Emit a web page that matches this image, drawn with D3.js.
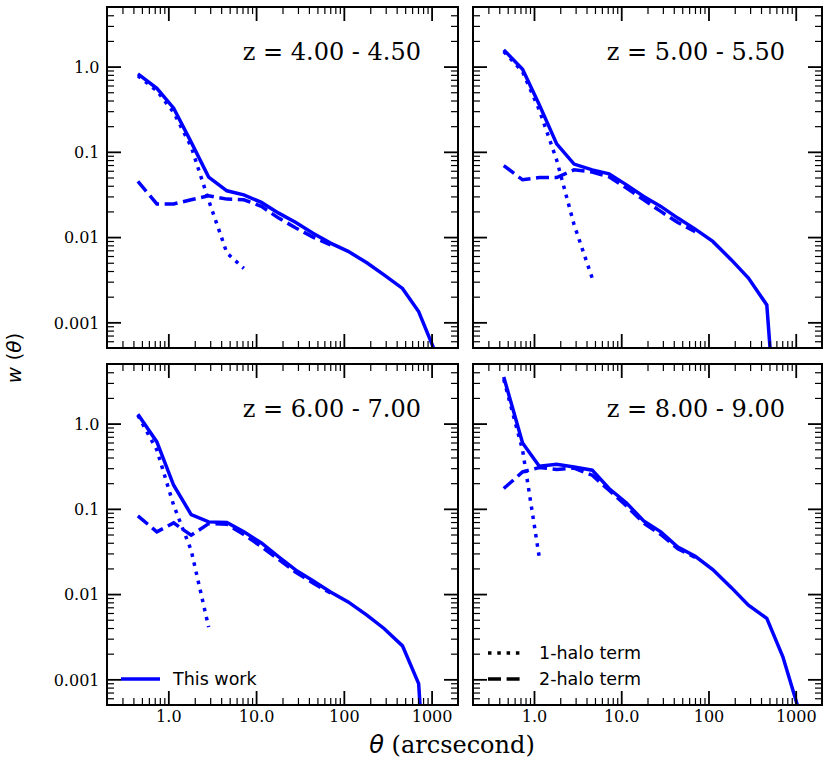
<!DOCTYPE html>
<html><head><meta charset="utf-8">
<script src="https://cdn.jsdelivr.net/npm/d3@7"></script>
<style>body{margin:0;background:#fff} svg{display:block}</style>
</head><body>
<svg id="c" width="830" height="766"></svg>
<script>
// ---------------- data ----------------
const theta = [0.45, 0.74, 1.15, 1.82, 2.88, 4.65, 7.25, 11.5, 18.1, 28.4, 44.5, 70.5, 112, 183, 287, 466, 712, 1140];

const panelTitles = ["z = 4.00 - 4.50", "z = 5.00 - 5.50", "z = 6.00 - 7.00", "z = 8.00 - 9.00"];

// total w(theta) ("This work")
const total_z4 = [0.82, 0.557, 0.325, 0.13, 0.0505, 0.0349, 0.0313, 0.0255, 0.0191, 0.0148, 0.0111, 0.0085, 0.0068, 0.0050, 0.0036, 0.0025, 0.00134, 0.00041];
const total_z5 = [1.57, 0.93, 0.356, 0.124, 0.0718, 0.0615, 0.0552, 0.041, 0.0299, 0.0229, 0.0167, 0.0124, 0.0089, 0.0054, 0.0033, 0.0016, 0.000005];
const total_z6 = [1.29, 0.61, 0.189, 0.0857, 0.0703, 0.069, 0.0537, 0.0398, 0.0273, 0.0191, 0.0143, 0.0106, 0.0081, 0.00566, 0.00395, 0.00247, 0.00089, 0.0000005];
const total_z8 = [3.52, 0.593, 0.316, 0.333, 0.31, 0.284, 0.173, 0.117, 0.072, 0.0537, 0.0357, 0.0278, 0.0194, 0.0119, 0.0074, 0.00518, 0.00184, 0.00037];

// 1-halo term
const oneHalo_z4 = [0.78, 0.52, 0.29, 0.115, 0.027, 0.0065, 0.0043];
const oneHalo_z5 = [1.50, 0.87, 0.31, 0.08, 0.014, 0.0033];
const oneHalo_z6 = [1.25, 0.49, 0.11, 0.0327, 0.0041];
const oneHalo_z8 = [3.3, 0.49, 0.027];

// 2-halo term
const twoHalo_z4 = [0.045, 0.0245, 0.0245, 0.0274, 0.0305, 0.0279, 0.0274, 0.0229, 0.0167, 0.0128, 0.0100, 0.0081];
const twoHalo_z5 = [0.069, 0.047, 0.05, 0.05, 0.0615, 0.058, 0.051, 0.0375, 0.0274, 0.020, 0.0148, 0.0116];
const twoHalo_z6 = [0.0826, 0.0537, 0.0684, 0.049, 0.067, 0.066, 0.050, 0.036, 0.0255, 0.018, 0.0135, 0.0103];
const twoHalo_z8 = [0.173, 0.271, 0.305, 0.29, 0.30, 0.248, 0.165, 0.108, 0.068, 0.050, 0.034, 0.027];

const xTickValues = [1, 10, 100, 1000];
const xTickLabels = ["1.0", "10.0", "100", "1000"];
const yTickValues = [1, 0.1, 0.01, 0.001];
const yTickLabels = ["1.0", "0.1", "0.01", "0.001"];
const legendLabels = ["This work", "1-halo term", "2-halo term"];

// ---------------- layout ----------------
const svg = d3.select("#c");
const cols = [[107, 458], [473, 822]];
const rows = [[7, 348], [364, 705]];
const xDomain = [0.2, 2000], yDomain = [0.0005, 5];
const BLUE = "#0000ff";
const LW = 3.5;
const DOT = "3.5,5.8", DASH = "13,5.6";

function minorTicks(lo, hi) {
  const out = [];
  for (let e = -5; e <= 4; e++) for (let k = 2; k <= 9; k++) {
    const v = k * Math.pow(10, e);
    if (v > lo * 1.0001 && v < hi * 0.9999) out.push(v);
  }
  return out;
}
const xMinor = minorTicks(xDomain[0], xDomain[1]);
const yMinor = minorTicks(yDomain[0], yDomain[1]);

const panels = [
  {title: panelTitles[0], total: total_z4, one: oneHalo_z4, two: twoHalo_z4, c: 0, r: 0},
  {title: panelTitles[1], total: total_z5, one: oneHalo_z5, two: twoHalo_z5, c: 1, r: 0},
  {title: panelTitles[2], total: total_z6, one: oneHalo_z6, two: twoHalo_z6, c: 0, r: 1},
  {title: panelTitles[3], total: total_z8, one: oneHalo_z8, two: twoHalo_z8, c: 1, r: 1}
];

function styleAxis(g, width) {
  g.select(".domain").remove();
  g.selectAll(".tick line").attr("stroke", "#000").attr("stroke-width", width);
  g.attr("font-family", "DejaVu Serif").attr("font-size", 16);
  g.selectAll(".tick text").attr("fill", "#000");
}

panels.forEach((p, i) => {
  const [L, R] = cols[p.c], [T, B] = rows[p.r];
  const x = d3.scaleLog().domain(xDomain).range([L, R]);
  const y = d3.scaleLog().domain(yDomain).range([B, T]);
  const g = svg.append("g");

  const clipId = "clip" + i;
  svg.append("clipPath").attr("id", clipId).append("rect")
    .attr("x", L).attr("y", T).attr("width", R - L).attr("height", B - T);

  // lines
  const line = d3.line().x(d => x(d[0])).y(d => y(d[1]));
  const lg = g.append("g").attr("clip-path", `url(#${clipId})`);
  const mk = arr => arr.map((v, k) => [theta[k], v]);
  lg.append("path").attr("d", line(mk(p.total))).attr("fill", "none")
    .attr("stroke", BLUE).attr("stroke-width", LW).attr("stroke-linejoin", "miter");
  lg.append("path").attr("d", line(mk(p.one))).attr("fill", "none")
    .attr("stroke", BLUE).attr("stroke-width", LW).attr("stroke-dasharray", DOT);
  lg.append("path").attr("d", line(mk(p.two))).attr("fill", "none")
    .attr("stroke", BLUE).attr("stroke-width", LW).attr("stroke-dasharray", DASH);

  const showX = p.r === 1, showY = p.c === 0;
  // bottom
  const gb = g.append("g").attr("transform", `translate(0,${B})`)
    .call(d3.axisBottom(x).tickValues(xTickValues).tickSize(-14).tickPadding(6)
      .tickFormat((d, k) => showX ? xTickLabels[k] : ""));
  styleAxis(gb, 1.8);
  const gbm = g.append("g").attr("transform", `translate(0,${B})`)
    .call(d3.axisBottom(x).tickValues(xMinor).tickSize(-7).tickFormat(""));
  styleAxis(gbm, 1.2);
  // top
  const gt = g.append("g").attr("transform", `translate(0,${T})`)
    .call(d3.axisTop(x).tickValues(xTickValues).tickSize(-14).tickFormat(""));
  styleAxis(gt, 1.8);
  const gtm = g.append("g").attr("transform", `translate(0,${T})`)
    .call(d3.axisTop(x).tickValues(xMinor).tickSize(-7).tickFormat(""));
  styleAxis(gtm, 1.2);
  // left
  const gl = g.append("g").attr("transform", `translate(${L},0)`)
    .call(d3.axisLeft(y).tickValues(yTickValues).tickSize(-14).tickPadding(7.5)
      .tickFormat((d, k) => showY ? yTickLabels[k] : ""));
  styleAxis(gl, 1.8);
  gl.selectAll(".tick text").attr("dy", "0.36em");
  const glm = g.append("g").attr("transform", `translate(${L},0)`)
    .call(d3.axisLeft(y).tickValues(yMinor).tickSize(-7).tickFormat(""));
  styleAxis(glm, 1.2);
  // right
  const gr = g.append("g").attr("transform", `translate(${R},0)`)
    .call(d3.axisRight(y).tickValues(yTickValues).tickSize(-14).tickFormat(""));
  styleAxis(gr, 1.8);
  const grm = g.append("g").attr("transform", `translate(${R},0)`)
    .call(d3.axisRight(y).tickValues(yMinor).tickSize(-7).tickFormat(""));
  styleAxis(grm, 1.2);

  // frame
  g.append("rect").attr("x", L).attr("y", T).attr("width", R - L).attr("height", B - T)
    .attr("fill", "none").attr("stroke", "#000").attr("stroke-width", 2);

  // title
  g.append("text").attr("x", R - 37).attr("y", T + 53).attr("text-anchor", "end")
    .attr("font-family", "DejaVu Serif").attr("font-size", 24).attr("fill", "#000")
    .text(p.title);
});

// legends
{
  const [L] = cols[0];
  const gy = 679;
  svg.append("line").attr("x1", L + 14).attr("x2", L + 53).attr("y1", gy).attr("y2", gy)
    .attr("stroke", BLUE).attr("stroke-width", LW);
  svg.append("text").attr("x", L + 66).attr("y", gy).attr("dy", "0.36em")
    .attr("font-family", "DejaVu Sans").attr("font-size", 17.5).attr("fill", "#000")
    .text(legendLabels[0]);
}
{
  const [L] = cols[1];
  const items = [[legendLabels[1], DOT, 653], [legendLabels[2], DASH, 679]];
  items.forEach(([lab, da, gy]) => {
    svg.append("line").attr("x1", L + 15).attr("x2", L + 51).attr("y1", gy).attr("y2", gy)
      .attr("stroke", "#000").attr("stroke-width", LW).attr("stroke-dasharray", da);
    svg.append("text").attr("x", L + 66).attr("y", gy).attr("dy", "0.36em")
      .attr("font-family", "DejaVu Sans").attr("font-size", 17.5).attr("fill", "#000")
      .text(lab);
  });
}

// axis labels
const xl = svg.append("text").attr("x", 452).attr("y", 753).attr("text-anchor", "middle")
  .attr("font-size", 24).attr("fill", "#000");
xl.append("tspan").attr("font-family", "DejaVu Sans").attr("font-style", "italic").text("θ");
xl.append("tspan").attr("font-family", "DejaVu Serif").text(" (arcsecond)");

const yl = svg.append("text").attr("transform", "translate(21,358) rotate(-90)")
  .attr("text-anchor", "middle").attr("font-size", 20).attr("fill", "#000")
  .attr("font-family", "DejaVu Sans");
yl.append("tspan").attr("font-style", "italic").text("w");
yl.append("tspan").text(" (");
yl.append("tspan").attr("font-style", "italic").text("θ");
yl.append("tspan").text(")");
</script>
</body></html>
